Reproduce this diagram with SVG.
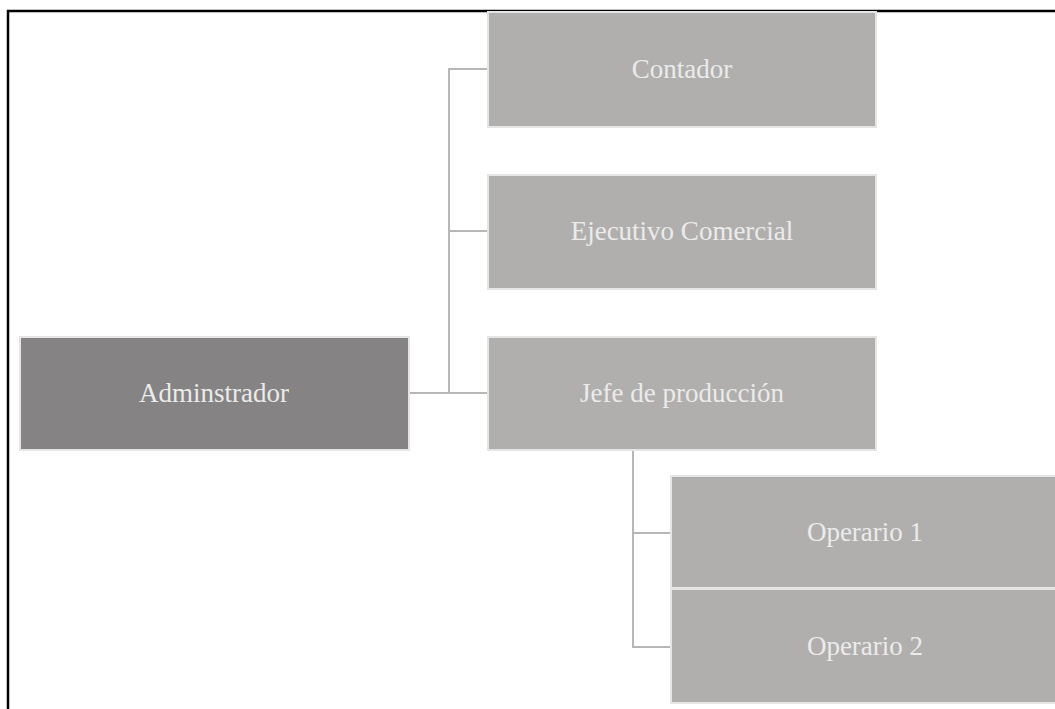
<svg xmlns="http://www.w3.org/2000/svg" width="1055" height="709" viewBox="0 0 1055 709">
<style>
.box{fill:#b0afae;stroke:#e6e5e5;stroke-width:2}
.root{fill:#858383;stroke:#e6e5e5;stroke-width:2}
.lbl{font-family:"Liberation Serif","Times New Roman",serif;font-size:27px;fill:#ebebeb;text-anchor:middle;dominant-baseline:central}
.con{fill:none;stroke:#b7b7b7;stroke-width:2}
</style>
<rect x="0" y="0" width="1055" height="709" fill="#ffffff"/>
<path d="M8 709 V11 H1055" fill="none" stroke="#000" stroke-width="2.5"/>
<g id="connectors">
<path class="con" d="M409 393 H488"/>
<path class="con" d="M449 393 V69 H488"/>
<path class="con" d="M449 231 H488"/>
<path class="con" d="M633 450 V647 H671"/>
<path class="con" d="M633 533 H671"/>
</g>
<g id="n-admin"><rect class="root" x="20" y="337" width="389" height="113"/><text class="lbl" x="214" y="393">Adminstrador</text></g>
<g id="n-contador"><rect class="box" x="488" y="12" width="388" height="115"/><text class="lbl" x="682" y="69">Contador</text></g>
<g id="n-ejecutivo"><rect class="box" x="488" y="175" width="388" height="114"/><text class="lbl" x="682" y="231">Ejecutivo Comercial</text></g>
<g id="n-jefe"><rect class="box" x="488" y="337" width="388" height="113"/><text class="lbl" x="682" y="393">Jefe de producción</text></g>
<g id="n-op1"><rect class="box" x="671" y="476" width="392" height="112"/><text class="lbl" x="865" y="532">Operario 1</text></g>
<g id="n-op2"><rect class="box" x="671" y="589" width="392" height="114"/><text class="lbl" x="865" y="646">Operario 2</text></g>
</svg>
